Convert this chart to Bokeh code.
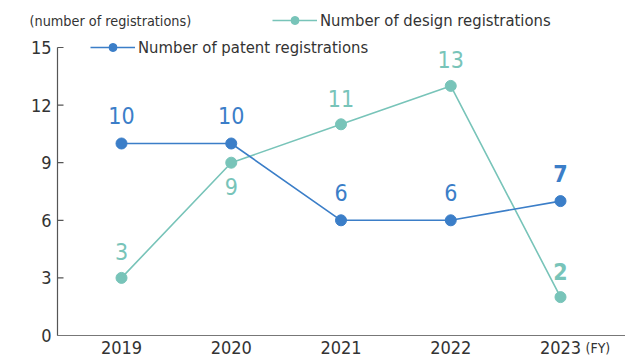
from bokeh.plotting import figure
from bokeh.models import ColumnDataSource, Range1d, Label, Legend, LegendItem
from bokeh.core.properties import value
from bokeh.embed import file_html
from bokeh.resources import INLINE

years = ["2019", "2020", "2021", "2022", "2023"]
patent = [10, 10, 6, 6, 7]
design = [3, 9, 11, 13, 2]
y_ticks = [0, 3, 6, 9, 12, 15]

PAT = "#3b7ec8"
DES = "#78c4b9"
TXT = "#333333"
AX = "#555555"
FONT = "DejaVu Sans Condensed, sans-serif"

W, H = 625, 357
# layout (pixels) -> ranges
X0_PX, X_STEP = 121.0, 109.75     # first category centre, category spacing
Y0_PX, Y_UNIT = 22.0, 19.2        # y=0 height above bottom, px per unit
AXIS_PX = 57.0                     # y-axis line position
x_start = -X0_PX / X_STEP
x_end = x_start + W / X_STEP
y_start = -Y0_PX / Y_UNIT
y_end = y_start + H / Y_UNIT
axis_x = x_start + AXIS_PX / X_STEP

xs = list(range(len(years)))

p = figure(width=W, height=H, output_backend="svg", toolbar_location=None, title=None,
           x_range=Range1d(x_start, x_end), y_range=Range1d(y_start, y_end),
           x_axis_location=None, y_axis_location=None,
           min_border=0, min_border_left=0, min_border_right=0,
           min_border_top=0, min_border_bottom=0)
p.outline_line_color = None
p.grid.visible = False
p.background_fill_color = "white"
p.border_fill_color = "white"

# --- axes drawn from tick arrays through the plot scales ---
p.segment(x0=[axis_x], y0=[0], x1=[axis_x], y1=[max(y_ticks)], line_color=AX, line_width=1.2)
p.ray(x=[axis_x] * len(y_ticks), y=y_ticks, length=6, length_units="screen", angle=0,
      line_color=AX, line_width=1.2)
p.text(x=[axis_x] * len(y_ticks), y=y_ticks, text=[str(t) for t in y_ticks], x_offset=-6,
       text_align="right", text_baseline="middle", text_color=TXT,
       text_font=value(FONT), text_font_size="18px")
p.segment(x0=[axis_x], y0=[0], x1=[x_end], y1=[0], line_color="#777777", line_width=1.2)
p.text(x=xs, y=[0] * len(xs), text=years, y_offset=12, text_align="center",
       text_baseline="middle", text_color=TXT, text_font=value(FONT), text_font_size="18px")

# --- series ---
src_p = ColumnDataSource(dict(x=xs, y=patent, t=[str(v) for v in patent],
                              fs=["normal"] * (len(patent) - 1) + ["bold"]))
src_d = ColumnDataSource(dict(x=xs, y=design, t=[str(v) for v in design],
                              fs=["normal"] * (len(design) - 1) + ["bold"],
                              off=[-26 if i != 1 else 24 for i in range(len(design))]))

ld = p.line("x", "y", source=src_d, line_color=DES, line_width=1.6)
sd = p.scatter("x", "y", source=src_d, size=11, fill_color=DES, line_color=DES)
lp = p.line("x", "y", source=src_p, line_color=PAT, line_width=1.6)
sp = p.scatter("x", "y", source=src_p, size=11, fill_color=PAT, line_color=PAT)

p.text("x", "y", text="t", source=src_p, y_offset=-28, text_align="center",
       text_baseline="middle", text_color=PAT, text_font=value(FONT),
       text_font_size="23px", text_font_style="fs")
p.text("x", "y", text="t", source=src_d, y_offset="off", text_align="center",
       text_baseline="middle", text_color=DES, text_font=value(FONT),
       text_font_size="23px", text_font_style="fs")

# --- legends ---
leg_kw = dict(padding=0, margin=0, spacing=0, glyph_width=45, glyph_height=20,
              label_height=20, label_standoff=3, label_text_font=FONT,
              label_text_font_size="16.5px", label_text_color=TXT,
              background_fill_alpha=0, border_line_color=None)
p.add_layout(Legend(items=[LegendItem(label="Number of design registrations", renderers=[ld, sd])],
                    location=(272, 327), **leg_kw), "center")
p.add_layout(Legend(items=[LegendItem(label="Number of patent registrations", renderers=[lp, sp])],
                    location=(90, 300), **leg_kw), "center")

# --- unit texts ---
p.add_layout(Label(x=29, y=H - 20, x_units="screen", y_units="screen",
                   text="(number of registrations)", text_font=FONT,
                   text_font_size="14.3px", text_color=TXT, text_baseline="middle"))
p.add_layout(Label(x=585, y=H - 347, x_units="screen", y_units="screen",
                   text="(FY)", text_font=FONT, text_font_size="14px",
                   text_color=TXT, text_baseline="middle", text_align="left"))

open("out.html", "w").write(file_html(p, INLINE))
